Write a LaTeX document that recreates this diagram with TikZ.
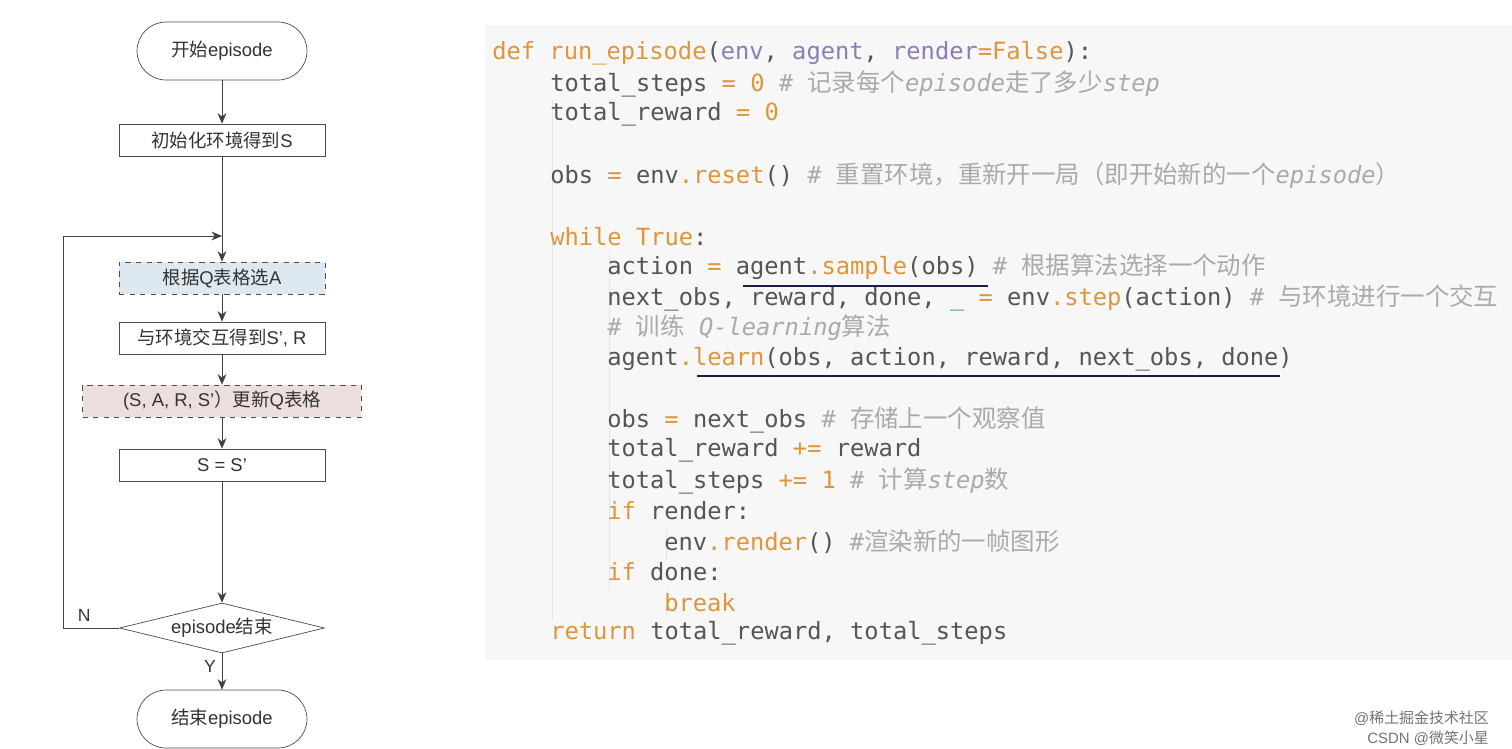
\documentclass[tikz,border=0pt]{standalone}
\usepackage{fontspec}
\usepackage{xcolor}
\usetikzlibrary{shapes.geometric,arrows.meta}
\setmainfont{Liberation Sans}
\setmonofont{DejaVu Sans Mono}
\newfontfamily\cjk{Noto Sans CJK SC}
\newfontfamily\cjkcode{Noto Sans CJK SC}[Scale=1.03]
\definecolor{kworange}{RGB}{222, 150, 60}
\definecolor{argpurple}{RGB}{140, 125, 180}
\definecolor{cmtgrey}{RGB}{170, 170, 170}
\definecolor{codegrey}{RGB}{85, 85, 85}
\definecolor{chooseblue}{RGB}{222, 232, 240}
\definecolor{updatepink}{RGB}{236, 222, 220}
\definecolor{marknavy}{RGB}{25, 30, 70}
\newcommand{\kw}[1]{\textcolor{kworange}{#1}}
\newcommand{\ag}[1]{\textcolor{argpurple}{#1}}
\newcommand{\cm}[1]{\textcolor{cmtgrey}{#1}}
\newcommand{\zh}[1]{{\cjk #1}}
\newcommand{\zc}[1]{{\cjkcode #1}}

\begin{document}
\begin{tikzpicture}[x=0.02cm, y=-0.02cm,
    box/.style={draw=black!70, minimum width=4.12cm, minimum height=0.64cm, align=center, font=\fontsize{10.5}{12}\selectfont, text=black!80},
    dashbox/.style={box, dashed},
    term/.style={draw=black!70, rounded corners=0.58cm, minimum width=3.4cm, minimum height=1.16cm, font=\fontsize{10.5}{12}\selectfont, text=black!80},
    check/.style={draw=black!70, diamond, aspect=4.2, minimum width=4.1cm, minimum height=1cm, inner sep=0pt, font=\fontsize{10.5}{12}\selectfont, text=black!80},
    flow/.style={-{Stealth[length=6pt, width=5pt]}, draw=black!75},
    code/.style={anchor=west, inner sep=0pt, font=\ttfamily\fontsize{13.5}{16}\selectfont, text=codegrey},
    penline/.style={draw=marknavy, line width=1.1pt}]
    % frame
    \useasboundingbox (0,0) rectangle (1512,748);
    \fill[white] (0,0) rectangle (1512,748);
    \fill[black!3] (485,25) rectangle (1512,660);
    \draw[black!10] (552,100) -- (552,620);
    \draw[black!10] (609,255) -- (609,590);
    \draw[black!10] (666,530) -- (666,560);
    \draw[black!10] (666,590) -- (666,615);

    % flowchart
    \node[term] (start) at (222,51) {\zh{开始}episode};
    \node[box] (init) at (222,140) {\zh{初始化环境得到}S};
    \coordinate (join) at (222,236);
    \node[dashbox, fill=chooseblue] (choose) at (222,278) {\zh{根据}Q\zh{表格选}A};
    \node[box] (act) at (222,338) {\zh{与环境交互得到}S', R};
    \node[dashbox, fill=updatepink, minimum width=5.58cm] (update) at (222,401) {(S, A, R, S'\zh{）更新}Q\zh{表格}};
    \node[box] (assign) at (222,465) {S = S'};
    \node[check] (done) at (222,628) {episode\zh{结束}};
    \node[term] (stop) at (222,719) {\zh{结束}episode};
    \coordinate (corner) at (63,628);
    \coordinate (top) at (63,236);

    \draw[flow] (start) -- (init);
    \draw[flow] (init) -- (choose);
    \draw[flow] (choose) -- (act);
    \draw[flow] (act) -- (update);
    \draw[flow] (update) -- (assign);
    \draw[flow] (assign) -- (done);
    \draw[flow] (done) -- node[pos=0.35, left, font=\fontsize{10}{12}\selectfont, text=black!80] {Y} (stop);
    \draw[flow] (done.west) -- node[above left, pos=0.4, font=\fontsize{10}{12}\selectfont, text=black!80] {N} (corner) -- (top) -- (join);

    % code
    \node[code] (l1) at (492,53) {\kw{def} \kw{run\_episode}(\ag{env}, \ag{agent}, \ag{render}\kw{=False}):};
    \node[code] (l2) at (550,84) {total\_steps \kw{=} \kw{0} \cm{\# \zc{记录每个}\textit{episode}\zc{走了多少}\textit{step}}};
    \node[code] (l3) at (550,114) {total\_reward \kw{=} \kw{0}};
    \node[code] (l4) at (550,176) {obs \kw{=} env\kw{.reset}() \cm{\# \zc{重置环境，重新开一局（即开始新的一个}\textit{episode}\zc{）}}};
    \node[code] (l5) at (550,237) {\kw{while} \kw{True}:};
    \node[code] (l6) at (607,267) {action \kw{=} agent\kw{.sample}(obs) \cm{\# \zc{根据算法选择一个动作}}};
    \node[code] (l7) at (607,298) {next\_obs, reward, done, \textcolor{cyan!70!black}{\_} \kw{=} env\kw{.step}(action) \cm{\# \zc{与环境进行一个交互}}};
    \node[code] (l8) at (607,328) {\cm{\# \zc{训练} \textit{Q-learning}\zc{算法}}};
    \node[code] (l9) at (607,359) {agent\kw{.learn}(obs, action, reward, next\_obs, done)};
    \node[code] (l10) at (607,420) {obs \kw{=} next\_obs  \cm{\# \zc{存储上一个观察值}}};
    \node[code] (l11) at (607,450) {total\_reward \kw{+=} reward};
    \node[code] (l12) at (607,481) {total\_steps \kw{+=} \kw{1} \cm{\# \zc{计算}\textit{step}\zc{数}}};
    \node[code] (l13) at (607,511) {\kw{if} render:};
    \node[code] (l14) at (664,542) {env\kw{.render}() \cm{\#\zc{渲染新的一帧图形}}};
    \node[code] (l15) at (607,572) {\kw{if} done:};
    \node[code] (l16) at (664,603) {\kw{break}};
    \node[code] (l17) at (550,633) {\kw{return} total\_reward, total\_steps};

    % hand-drawn marks
    \coordinate (m1a) at (743,286);
    \coordinate (m1b) at (988,286);
    \coordinate (m2a) at (697,376);
    \coordinate (m2b) at (1280,376);
    \draw[penline] (m1a) -- (m1b);
    \draw[penline] (m2a) -- (m2b);

    % watermark
    \node[anchor=east, text=black!55, font=\fontsize{8.5}{10}\selectfont] (wm1) at (1495,718) {@\zh{稀土掘金技术社区}};
    \node[anchor=east, text=black!55, font=\fontsize{8.5}{10}\selectfont] (wm2) at (1495,738) {CSDN @\zh{微笑小星}};
\end{tikzpicture}
\end{document}
